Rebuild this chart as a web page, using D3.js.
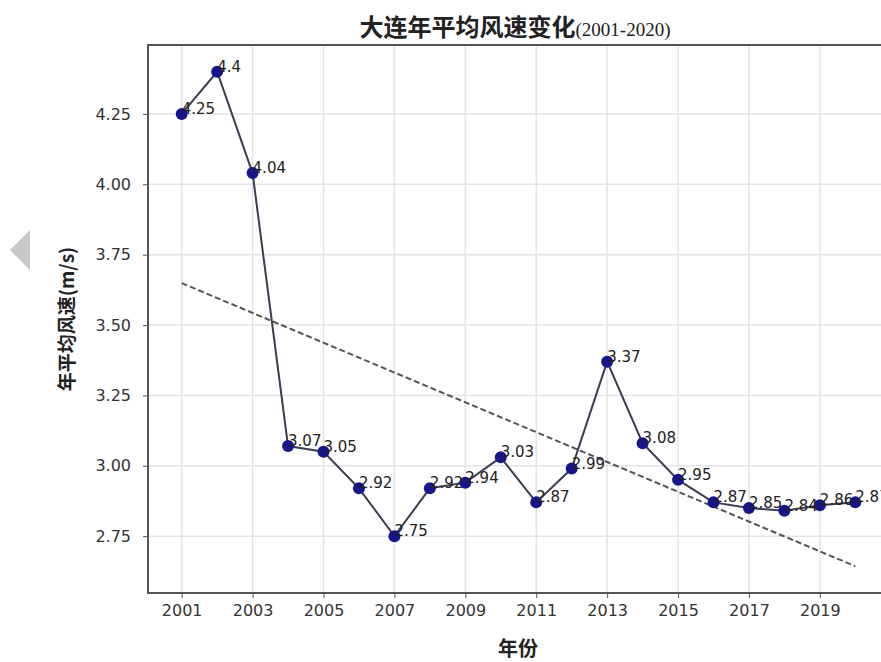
<!DOCTYPE html>
<html>
<head>
<meta charset="utf-8">
<script src="https://cdn.jsdelivr.net/npm/d3@7"></script>
<style>
  html, body { margin: 0; padding: 0; background: #fff; overflow: hidden; }
  svg { display: block; }
</style>
</head>
<body>
<svg id="chart" width="881" height="662"></svg>
<script>
// Annual mean wind speed, Dalian
const years = [2001, 2002, 2003, 2004, 2005, 2006, 2007, 2008, 2009, 2010,
               2011, 2012, 2013, 2014, 2015, 2016, 2017, 2018, 2019, 2020];
const windSpeed = [4.25, 4.4, 4.04, 3.07, 3.05, 2.92, 2.75, 2.92, 2.94, 3.03,
                   2.87, 2.99, 3.37, 3.08, 2.95, 2.87, 2.85, 2.84, 2.86, 2.87];
const xTicks = [2001, 2003, 2005, 2007, 2009, 2011, 2013, 2015, 2017, 2019];
const yTicks = [2.75, 3.00, 3.25, 3.50, 3.75, 4.00, 4.25];

const titleMain = "大连年平均风速变化";
const titleYears = "(2001-2020)";
const xLabel = "年份";
const yLabel = "年平均风速(m/s)";

const svg = d3.select("#chart");
const plotL = 148, plotR = 889, plotT = 45, plotB = 593;

const x = d3.scaleLinear().domain([2000.05, 2020.95]).range([plotL, plotR]);
const y = d3.scaleLinear().domain([2.548, 4.495]).range([plotB, plotT]);

// side arrow
svg.append("path")
  .attr("d", "M30,230 L30,270 L10,250 Z")
  .attr("fill", "#c8c8c8");

// grid
const grid = svg.append("g");
grid.selectAll("line.v").data(xTicks).join("line")
  .attr("class", "v")
  .attr("x1", d => x(d)).attr("x2", d => x(d))
  .attr("y1", plotT).attr("y2", plotB)
  .attr("stroke", "#e4e4e4").attr("stroke-width", 1.5);
grid.selectAll("line.h").data(yTicks).join("line")
  .attr("class", "h")
  .attr("x1", plotL).attr("x2", plotR)
  .attr("y1", d => y(d)).attr("y2", d => y(d))
  .attr("stroke", "#e4e4e4").attr("stroke-width", 1.5);

// axes
const xAxis = d3.axisBottom(x).tickValues(xTicks).tickFormat(d3.format("d")).tickSize(5).tickPadding(7);
const yAxis = d3.axisLeft(y).tickValues(yTicks).tickFormat(d3.format(".2f")).tickSize(5).tickPadding(12);

const gx = svg.append("g").attr("transform", `translate(0,${plotB})`).call(xAxis);
const gy = svg.append("g").attr("transform", `translate(${plotL},0)`).call(yAxis);
[gx, gy].forEach(g => {
  g.select(".domain").remove();
  g.selectAll(".tick line").attr("stroke", "#555").attr("stroke-width", 1);
  g.selectAll(".tick text")
    .attr("fill", "#333")
    .style("font-family", "'DejaVu Sans', sans-serif")
    .style("font-size", "16px");
});

// frame
svg.append("rect")
  .attr("x", plotL).attr("y", plotT)
  .attr("width", plotR - plotL).attr("height", plotB - plotT)
  .attr("fill", "none").attr("stroke", "#555").attr("stroke-width", 2);

// linear trend (least squares fit of the yearly values)
const mx = d3.mean(years), my = d3.mean(windSpeed);
const sxy = d3.sum(years, (d, i) => (d - mx) * (windSpeed[i] - my));
const sxx = d3.sum(years, d => (d - mx) * (d - mx));
const slope = sxy / sxx, intercept = my - slope * mx;
const trendEnds = [years[0], years[years.length - 1]];
svg.append("line")
  .attr("x1", x(trendEnds[0])).attr("y1", y(intercept + slope * trendEnds[0]))
  .attr("x2", x(trendEnds[1])).attr("y2", y(intercept + slope * trendEnds[1]))
  .attr("stroke", "#555").attr("stroke-width", 2)
  .attr("stroke-dasharray", "6,3");

// data line
const pts = years.map((d, i) => [d, windSpeed[i]]);
svg.append("path")
  .datum(pts)
  .attr("d", d3.line().x(d => x(d[0])).y(d => y(d[1])))
  .attr("fill", "none").attr("stroke", "#3c3c52").attr("stroke-width", 2);

svg.selectAll("circle.pt").data(pts).join("circle")
  .attr("class", "pt")
  .attr("cx", d => x(d[0])).attr("cy", d => y(d[1])).attr("r", 6)
  .attr("fill", "#16168a");

// value labels
svg.selectAll("text.val").data(pts).join("text")
  .attr("class", "val")
  .attr("x", d => x(d[0])).attr("y", d => y(d[1]))
  .text(d => String(d[1]))
  .attr("fill", "#222")
  .style("font-family", "'DejaVu Sans', sans-serif")
  .style("font-size", "15px");

// titles
const title = svg.append("text")
  .attr("x", 515).attr("y", 36)
  .attr("text-anchor", "middle")
  .attr("fill", "#222");
title.append("tspan")
  .style("font-family", "'Noto Sans CJK SC', sans-serif")
  .style("font-size", "24px").style("font-weight", "bold")
  .text(titleMain);
title.append("tspan")
  .style("font-family", "'Liberation Serif', serif")
  .style("font-size", "19px")
  .text(titleYears);

svg.append("text")
  .attr("x", 518).attr("y", 656)
  .attr("text-anchor", "middle")
  .style("font-family", "'Noto Sans CJK SC', sans-serif")
  .style("font-size", "20px").style("font-weight", "bold")
  .attr("fill", "#222")
  .text(xLabel);

svg.append("text")
  .attr("transform", `translate(74,${(plotT + plotB) / 2}) rotate(-90)`)
  .attr("text-anchor", "middle")
  .style("font-family", "'Noto Sans CJK SC', sans-serif")
  .style("font-size", "19px").style("font-weight", "bold")
  .attr("fill", "#222")
  .text(yLabel);
</script>
</body>
</html>
